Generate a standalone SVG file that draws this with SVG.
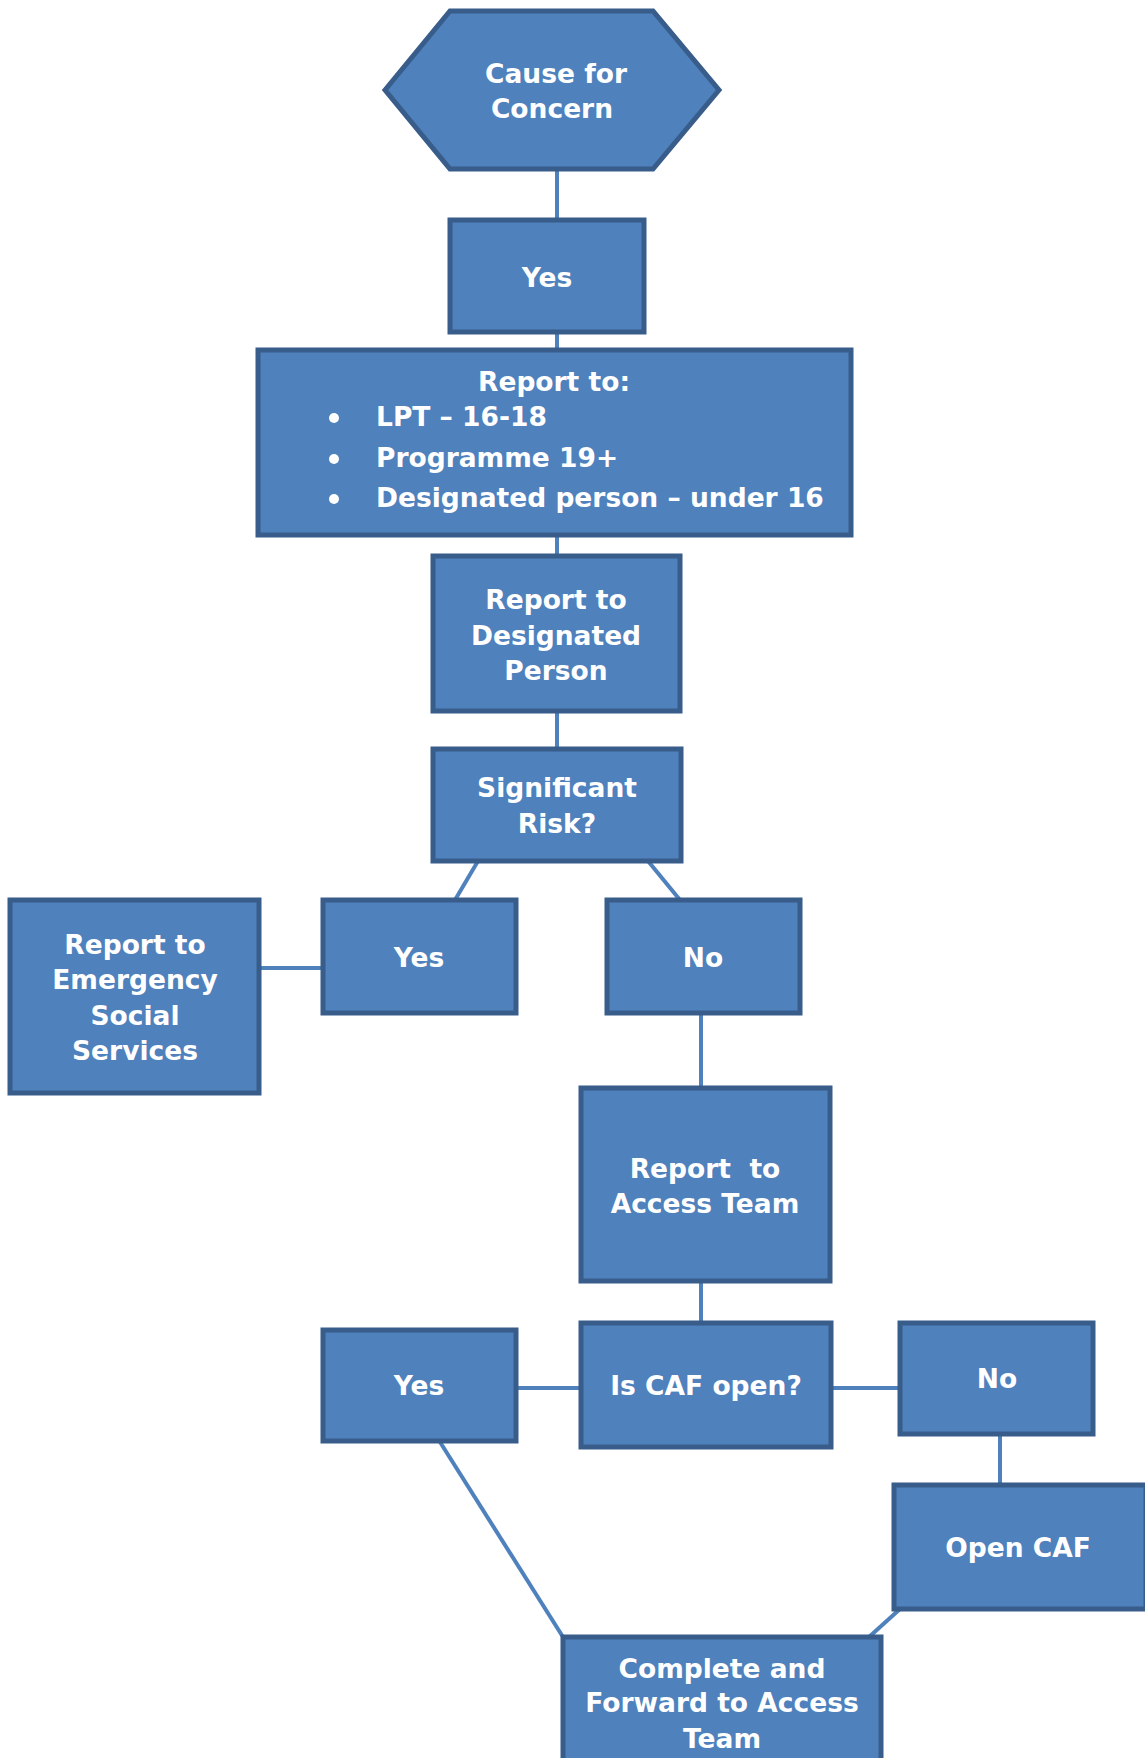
<svg xmlns="http://www.w3.org/2000/svg" width="1145" height="1758" viewBox="0 0 1145 1758">
<style>
.n{fill:#4F81BD;stroke:#385D8A;stroke-width:5;stroke-linejoin:miter}
.t{font-family:"DejaVu Sans",Verdana,sans-serif;font-weight:bold;font-size:26.5px;fill:#fff;text-anchor:middle}
.l{font-family:"DejaVu Sans",Verdana,sans-serif;font-weight:bold;font-size:26.5px;fill:#fff}
.c{stroke:#4F81BD;stroke-width:4;fill:none}
</style>
<rect width="1145" height="1758" fill="#fff"/>
<g id="connectors">
<line class="c" x1="557" y1="169" x2="557" y2="220"/>
<line class="c" x1="557" y1="332" x2="557" y2="350"/>
<line class="c" x1="557" y1="535" x2="557" y2="556"/>
<line class="c" x1="557" y1="711" x2="557" y2="749"/>
<line class="c" x1="478" y1="861" x2="455" y2="900"/>
<line class="c" x1="648" y1="861" x2="680" y2="900"/>
<line class="c" x1="259" y1="968" x2="323" y2="968"/>
<line class="c" x1="701" y1="1013" x2="701" y2="1088"/>
<line class="c" x1="701" y1="1281" x2="701" y2="1323"/>
<line class="c" x1="516" y1="1388" x2="581" y2="1388"/>
<line class="c" x1="831" y1="1388" x2="900" y2="1388"/>
<line class="c" x1="1000" y1="1434" x2="1000" y2="1485"/>
<line class="c" x1="440" y1="1442" x2="563" y2="1637"/>
<line class="c" x1="900" y1="1609" x2="869" y2="1637"/>
</g>
<g id="cause">
<polygon class="n" points="385,90 450,11 653,11 719,90 653,169 450,169"/>
<text class="t" x="556" y="83">Cause for</text>
<text class="t" x="552" y="118">Concern</text>
</g>
<g id="yes1">
<rect class="n" x="450" y="220" width="194" height="112"/>
<text class="t" x="547" y="287">Yes</text>
</g>
<g id="reportto">
<rect class="n" x="258" y="350" width="593" height="185"/>
<text class="t" x="554" y="391">Report to:</text>
<circle cx="334" cy="418" r="5" fill="#fff"/>
<circle cx="334" cy="459" r="5" fill="#fff"/>
<circle cx="334" cy="499" r="5" fill="#fff"/>
<text class="l" x="376" y="426">LPT – 16-18</text>
<text class="l" x="376" y="467">Programme 19+</text>
<text class="l" x="376" y="507">Designated person – under 16</text>
</g>
<g id="designated">
<rect class="n" x="433" y="556" width="247" height="155"/>
<text class="t" x="556" y="609">Report to</text>
<text class="t" x="556" y="645">Designated</text>
<text class="t" x="556" y="680">Person</text>
</g>
<g id="risk">
<rect class="n" x="433" y="749" width="248" height="112"/>
<text class="t" x="557" y="797">Significant</text>
<text class="t" x="557" y="833">Risk?</text>
</g>
<g id="ess">
<rect class="n" x="10" y="900" width="249" height="193"/>
<text class="t" x="135" y="954">Report to</text>
<text class="t" x="135" y="989">Emergency</text>
<text class="t" x="135" y="1025">Social</text>
<text class="t" x="135" y="1060">Services</text>
</g>
<g id="yes2">
<rect class="n" x="323" y="900" width="193" height="113"/>
<text class="t" x="419" y="967">Yes</text>
</g>
<g id="no2">
<rect class="n" x="607" y="900" width="193" height="113"/>
<text class="t" x="703" y="967">No</text>
</g>
<g id="access">
<rect class="n" x="581" y="1088" width="249" height="193"/>
<text class="t" x="705" y="1178">Report&#160; to</text>
<text class="t" x="705" y="1213">Access Team</text>
</g>
<g id="caf">
<rect class="n" x="581" y="1323" width="250" height="124"/>
<text class="t" x="706" y="1395">Is CAF open?</text>
</g>
<g id="yes3">
<rect class="n" x="323" y="1330" width="193" height="111"/>
<text class="t" x="419" y="1395">Yes</text>
</g>
<g id="no3">
<rect class="n" x="900" y="1323" width="193" height="111"/>
<text class="t" x="997" y="1388">No</text>
</g>
<g id="opencaf">
<rect class="n" x="894" y="1485" width="252" height="124"/>
<text class="t" x="1018" y="1557">Open CAF</text>
</g>
<g id="complete">
<rect class="n" x="563" y="1637" width="318" height="130"/>
<text class="t" x="722" y="1678">Complete and</text>
<text class="t" x="722" y="1712">Forward to Access</text>
<text class="t" x="722" y="1748">Team</text>
</g>
</svg>
